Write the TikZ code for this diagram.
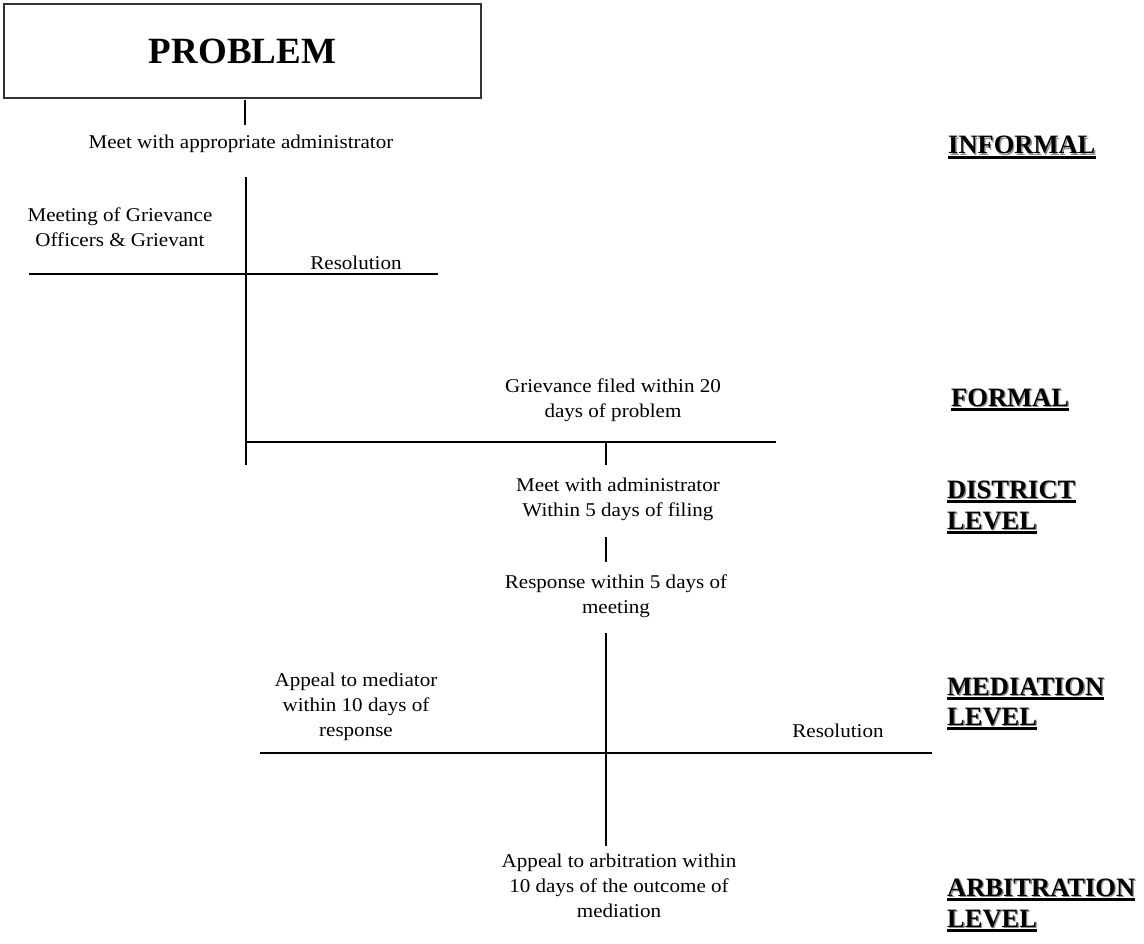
\documentclass[tikz,border=0pt]{standalone}
\usepackage{fontspec}
\usepackage{graphicx}
\setmainfont{Liberation Serif}
\newcommand\mlc[1]{\scalebox{1.08}[1]{\begin{tabular}[t]{@{}c@{}}#1\end{tabular}}}
\newcommand\shd[1]{\rlap{\kern1.3pt\raisebox{-1.3pt}{\color{black!45}#1}}#1}
\begin{document}
\begin{tikzpicture}[x=1pt,y=-1pt,
  txt/.style={inner sep=0pt,anchor=base,font=\fontsize{19.5}{25}\selectfont},
  lvl/.style={inner sep=0pt,anchor=base west,font=\fontsize{26.5}{30}\selectfont\bfseries},
  ln/.style={line width=2pt,black},
  ul/.style={line width=2.6pt,black}]
\useasboundingbox (0,0) rectangle (1144,944);

% Problem box
\node[draw=black!80,line width=1.4pt,minimum width=477pt,minimum height=94pt,inner sep=0pt,
      font=\fontsize{37}{40}\selectfont\bfseries] (prob) at (242.5,51) {PROBLEM};

% texts
\node[txt] (meet) at (241,149) {\mlc{Meet with appropriate administrator}};
\node[txt] (mog) at (120,222) {\mlc{Meeting of Grievance\\Officers \& Grievant}};
\node[txt] (res1) at (356,270) {\mlc{Resolution}};
\node[txt] (gf) at (613,392) {\mlc{Grievance filed within 20\\days of problem}};
\node[txt] (mwa) at (618,491) {\mlc{Meet with administrator\\Within 5 days of filing}};
\node[txt] (resp) at (616,588) {\mlc{Response within 5 days of\\meeting}};
\node[txt] (apm) at (356,686) {\mlc{Appeal to mediator\\within 10 days of\\response}};
\node[txt] (res2) at (838,737) {\mlc{Resolution}};
\node[txt] (apa) at (619,867) {\mlc{Appeal to arbitration within\\10 days of the outcome of\\mediation}};

% level labels
\node[lvl] (inf) at (948,154) {\shd{INFORMAL}};
\node[lvl] (frm) at (951,406) {\shd{FORMAL}};
\node[lvl] (dis1) at (947,498) {\shd{DISTRICT}};
\node[lvl] (dis2) at (947,529) {\shd{LEVEL}};
\node[lvl] (med1) at (947,695) {\shd{MEDIATION}};
\node[lvl] (med2) at (947,725) {\shd{LEVEL}};
\node[lvl] (arb1) at (947,896) {\shd{ARBITRATION}};
\node[lvl] (arb2) at (947,927) {\shd{LEVEL}};
\foreach \n in {inf,frm,dis1,dis2,med1,med2,arb1,arb2}{
  \draw[ul] ([yshift=-3.5pt]\n.base west) -- ([yshift=-3.5pt]\n.base east);
}

% line coordinates
\coordinate (t1a) at (245,100);
\coordinate (t1b) at (245,125);
\coordinate (v1a) at (246,177);
\coordinate (v1b) at (246,465);
\coordinate (h1a) at (29,274);
\coordinate (h1b) at (438,274);
\coordinate (h2a) at (246,442);
\coordinate (h2b) at (776,442);
\coordinate (t2a) at (606,442);
\coordinate (t2b) at (606,465);
\coordinate (t3a) at (606,537);
\coordinate (t3b) at (606,562);
\coordinate (v2a) at (606,633);
\coordinate (v2b) at (606,846);
\coordinate (h3a) at (260,753);
\coordinate (h3b) at (932,753);

\draw[ln] (t1a) -- (t1b);
\draw[ln] (v1a) -- (v1b);
\draw[ln] (h1a) -- (h1b);
\draw[ln] (h2a) -- (h2b);
\draw[ln] (t2a) -- (t2b);
\draw[ln] (t3a) -- (t3b);
\draw[ln] (v2a) -- (v2b);
\draw[ln] (h3a) -- (h3b);
\end{tikzpicture}
\end{document}
